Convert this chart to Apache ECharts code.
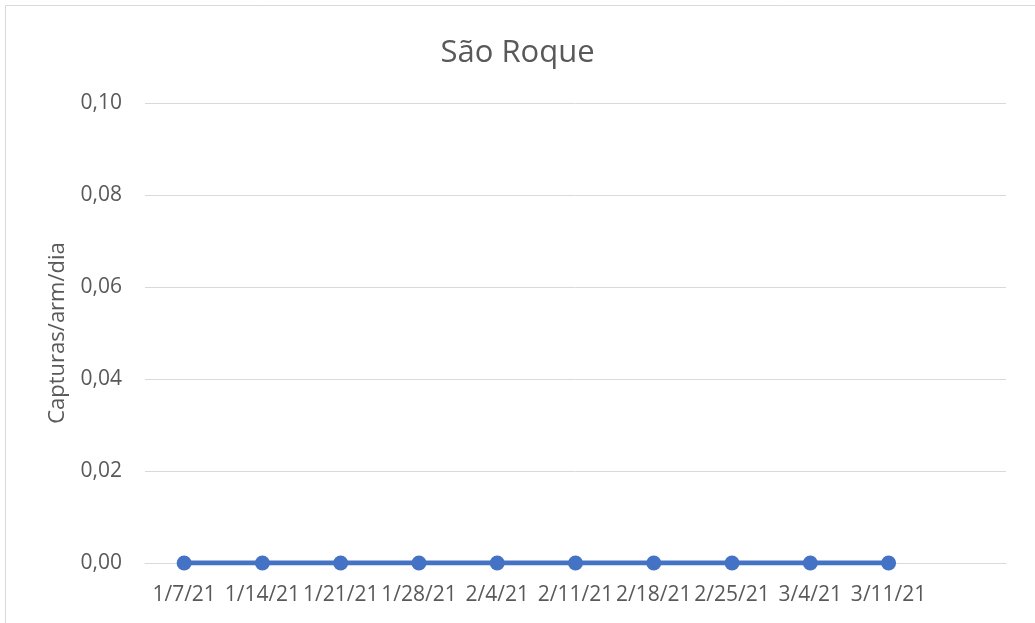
<!DOCTYPE html>
<html>
<head>
<meta charset="utf-8">
<script src="https://cdn.jsdelivr.net/npm/echarts@6/dist/echarts.min.js"></script>
<style>
  html, body { margin: 0; padding: 0; background: #fff; }
  #chart { width: 1035px; height: 623px; }
</style>
</head>
<body>
<div id="chart"></div>
<script>
// dados
var chartTitle = "São Roque";
var yName = "Capturas/arm/dia";
// a última categoria fica vazia (o Excel deixa um espaço a mais no eixo)
var categories = ["1/7/21", "1/14/21", "1/21/21", "1/28/21", "2/4/21", "2/11/21", "2/18/21", "2/25/21", "3/4/21", "3/11/21", ""];
var values = [0, 0, 0, 0, 0, 0, 0, 0, 0, 0, null];
var yMin = 0, yMax = 0.1, yStep = 0.02;

var font = "'Open Sans', sans-serif";
var grey = "#595959";

var myChart = echarts.init(document.getElementById("chart"));
var option = {
  animation: false,
  title: {
    text: chartTitle,
    left: "center",
    top: 33,
    textStyle: { fontFamily: font, fontSize: 31, fontWeight: "normal", color: grey }
  },
  graphic: [{
    type: "rect",
    shape: { x: 5.5, y: 5.5, width: 1200, height: 800 },
    style: { fill: "none", stroke: "#d9d9d9", lineWidth: 1 },
    silent: true
  }],
  grid: { left: 145, right: 29, top: 103, bottom: 60 },
  xAxis: {
    type: "category",
    data: categories,
    boundaryGap: true,
    axisLine: { lineStyle: { color: "#d9d9d9" } },
    axisTick: { show: false },
    axisLabel: { interval: 0, margin: 22, fontFamily: font, fontSize: 21, color: grey }
  },
  yAxis: {
    type: "value",
    min: yMin,
    max: yMax,
    interval: yStep,
    name: yName,
    nameLocation: "middle",
    nameGap: 76,
    nameTextStyle: { fontFamily: font, fontSize: 22, color: grey },
    axisLine: { show: false },
    axisTick: { show: false },
    splitLine: { lineStyle: { color: "#d9d9d9", width: 1 } },
    axisLabel: {
      margin: 23,
      fontFamily: font,
      fontSize: 21,
      color: grey,
      formatter: function (v) { return v.toFixed(2).replace(".", ","); }
    }
  },
  series: [{
    type: "line",
    data: values,
    symbol: "circle",
    symbolSize: 15,
    lineStyle: { color: "#4472C4", width: 5 },
    itemStyle: { color: "#4472C4" }
  }]
};
myChart.setOption(option);
</script>
</body>
</html>
